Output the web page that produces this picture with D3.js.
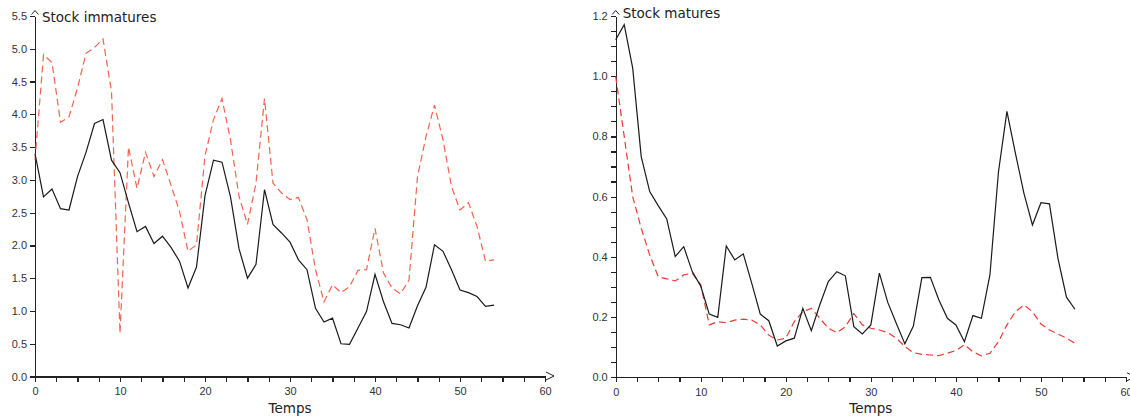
<!DOCTYPE html>
<html>
<head>
<meta charset="utf-8">
<script src="https://cdn.jsdelivr.net/npm/d3@7"></script>
<style>
    body { margin: 0; background: #fff; }
    .axis path, .axis line { stroke: #222; stroke-width: 1.2; shape-rendering: crispEdges; }
    .axis text { font-family: "Liberation Sans", Arial, sans-serif; font-size: 11px; fill: #333; }
    .chart-title, .x-axis-label { font-family: "DejaVu Sans", sans-serif; font-size: 13.5px; fill: #222; }
    .arrow { fill: none; stroke: #222; stroke-width: 1; }
</style>
</head>
<body>
<div id="chart"></div>
<script>

// time step is the index in each series (0 .. 54)
var immaturesObs = [3.40, 2.74, 2.86, 2.56, 2.54, 3.05, 3.42, 3.86, 3.92, 3.30,
    3.11, 2.65, 2.21, 2.29, 2.03, 2.14, 1.97, 1.76, 1.35, 1.67,
    2.76, 3.30, 3.27, 2.74, 1.95, 1.50, 1.71, 2.85, 2.32, 2.19,
    2.05, 1.78, 1.63, 1.04, 0.83, 0.89, 0.50, 0.49, 0.74, 0.99,
    1.56, 1.14, 0.81, 0.79, 0.74, 1.08, 1.36, 2.01, 1.91, 1.63,
    1.32, 1.28, 1.22, 1.07, 1.09];

var immaturesSim = [3.30, 4.91, 4.79, 3.88, 3.96, 4.40, 4.93, 5.02, 5.15, 4.35,
    0.66, 3.50, 2.87, 3.42, 3.05, 3.31, 2.92, 2.52, 1.91, 2.01,
    3.37, 3.92, 4.24, 3.61, 2.75, 2.32, 2.95, 4.24, 2.95, 2.80,
    2.70, 2.73, 2.39, 1.63, 1.14, 1.40, 1.28, 1.37, 1.62, 1.63,
    2.26, 1.58, 1.35, 1.26, 1.47, 3.05, 3.66, 4.14, 3.61, 2.90,
    2.54, 2.65, 2.29, 1.76, 1.78];

var maturesObs = [1.121, 1.171, 1.027, 0.733, 0.617, 0.570, 0.526, 0.401, 0.434, 0.351,
    0.303, 0.210, 0.199, 0.436, 0.390, 0.410, 0.312, 0.210, 0.188, 0.104,
    0.121, 0.130, 0.229, 0.155, 0.241, 0.318, 0.351, 0.337, 0.168, 0.144,
    0.174, 0.346, 0.248, 0.179, 0.111, 0.170, 0.331, 0.332, 0.257, 0.196,
    0.174, 0.118, 0.205, 0.196, 0.340, 0.681, 0.883, 0.744, 0.611, 0.506,
    0.580, 0.576, 0.395, 0.266, 0.226];

var maturesSim = [0.999, 0.800, 0.600, 0.495, 0.406, 0.334, 0.327, 0.320, 0.340, 0.346,
    0.307, 0.174, 0.185, 0.181, 0.190, 0.193, 0.190, 0.174, 0.140, 0.124,
    0.130, 0.185, 0.218, 0.229, 0.196, 0.163, 0.148, 0.168, 0.212, 0.174,
    0.163, 0.157, 0.148, 0.130, 0.102, 0.082, 0.076, 0.074, 0.072, 0.080,
    0.089, 0.108, 0.085, 0.071, 0.080, 0.118, 0.174, 0.218, 0.240, 0.218,
    0.177, 0.157, 0.144, 0.130, 0.113];

var xTicks = [0, 10, 20, 30, 40, 50, 60];
var immaturesTicks = [0, 0.5, 1, 1.5, 2, 2.5, 3, 3.5, 4, 4.5, 5, 5.5];
var maturesTicks = [0, 0.2, 0.4, 0.6, 0.8, 1.0, 1.2];


/*
 * StockLineVis - one panel with an observed (solid) and simulated (dashed) series
 */
StockLineVis = function(_svg, _opts){
    this.svg = _svg;
    this.opts = _opts;
    this.initVis();
}

StockLineVis.prototype.initVis = function(){
    var vis = this;
    var o = vis.opts;

    vis.g = vis.svg.append("g");

    vis.x = d3.scaleLinear().domain([0, 60]).range([o.left, o.right]);
    vis.y = d3.scaleLinear().domain([0, o.yMax]).range([o.bottom, o.top]);

    // x axis: labelled ticks every 10, small ticks every 2.5
    vis.g.append("g")
        .attr("class", "x-axis axis")
        .attr("transform", "translate(0," + o.bottom + ")")
        .call(d3.axisBottom(vis.x).tickValues(d3.range(0, 60.1, 2.5)).tickSize(5).tickSizeOuter(0).tickFormat(""));
    vis.g.append("g")
        .attr("class", "x-axis axis")
        .attr("transform", "translate(0," + o.bottom + ")")
        .call(d3.axisBottom(vis.x).tickValues(xTicks).tickSize(5).tickSizeOuter(0).tickPadding(6).tickFormat(d3.format("d")));

    // y axis
    if (o.yMinor) {
        vis.g.append("g")
            .attr("class", "y-axis axis")
            .attr("transform", "translate(" + o.left + ",0)")
            .call(d3.axisLeft(vis.y).tickValues(d3.range(0, o.yMax + 0.001, o.yMinor)).tickSize(5).tickSizeOuter(0).tickFormat(""));
    }
    vis.g.append("g")
        .attr("class", "y-axis axis")
        .attr("transform", "translate(" + o.left + ",0)")
        .call(d3.axisLeft(vis.y).tickValues(o.yTicks).tickSize(5).tickSizeOuter(0).tickFormat(d3.format(".1f")));

    // arrow heads at the ends of the axes
    vis.g.append("path")
        .attr("class", "arrow")
        .attr("d", "M" + (o.left - 3.5) + "," + (o.top - 1.5) + "L" + o.left + "," + (o.top - 5.5) + "L" + (o.left + 3.5) + "," + (o.top - 1.5));
    vis.g.append("path")
        .attr("class", "arrow")
        .attr("d", "M" + (o.right + 1) + "," + (o.bottom - 4.5) + "L" + (o.right + 9) + "," + (o.bottom - 0.5) + "L" + (o.right + 1) + "," + (o.bottom + 3.5));

    vis.g.append("text")
        .attr("class", "chart-title")
        .attr("x", o.left + 7)
        .attr("y", o.titleY)
        .text(o.title);

    vis.g.append("text")
        .attr("class", "x-axis-label")
        .attr("x", (o.left + o.right) / 2)
        .attr("y", 413)
        .style("text-anchor", "middle")
        .text("Temps");

    vis.valueLine = d3.line()
        .x(function(d, i) { return vis.x(i); })
        .y(function(d) { return vis.y(d); });

    vis.updateVis();
}

StockLineVis.prototype.updateVis = function(){
    var vis = this;

    vis.g.append("path")
        .datum(vis.opts.sim)
        .attr("fill", "none")
        .attr("stroke", vis.opts.simColor)
        .attr("stroke-width", 1.2)
        .attr("stroke-dasharray", "7,4")
        .attr("d", vis.valueLine);

    vis.g.append("path")
        .datum(vis.opts.obs)
        .attr("fill", "none")
        .attr("stroke", "#1a1a1a")
        .attr("stroke-width", 1.2)
        .attr("d", vis.valueLine);
}


var svg = d3.select("#chart").append("svg")
    .attr("width", 1130)
    .attr("height", 419);

var immaturesVis = new StockLineVis(svg, {
    left: 35, right: 545, top: 16, bottom: 376.5,
    yMax: 5.5, yTicks: immaturesTicks, yMinor: null,
    title: "Stock immatures", titleY: 22,
    obs: immaturesObs, sim: immaturesSim, simColor: "#f06450"
});

var maturesVis = new StockLineVis(svg, {
    left: 615.7, right: 1126, top: 16, bottom: 377.3,
    yMax: 1.2, yTicks: maturesTicks, yMinor: 0.05,
    title: "Stock matures", titleY: 17.5,
    obs: maturesObs, sim: maturesSim, simColor: "#e83a36"
});

</script>
</body>
</html>
